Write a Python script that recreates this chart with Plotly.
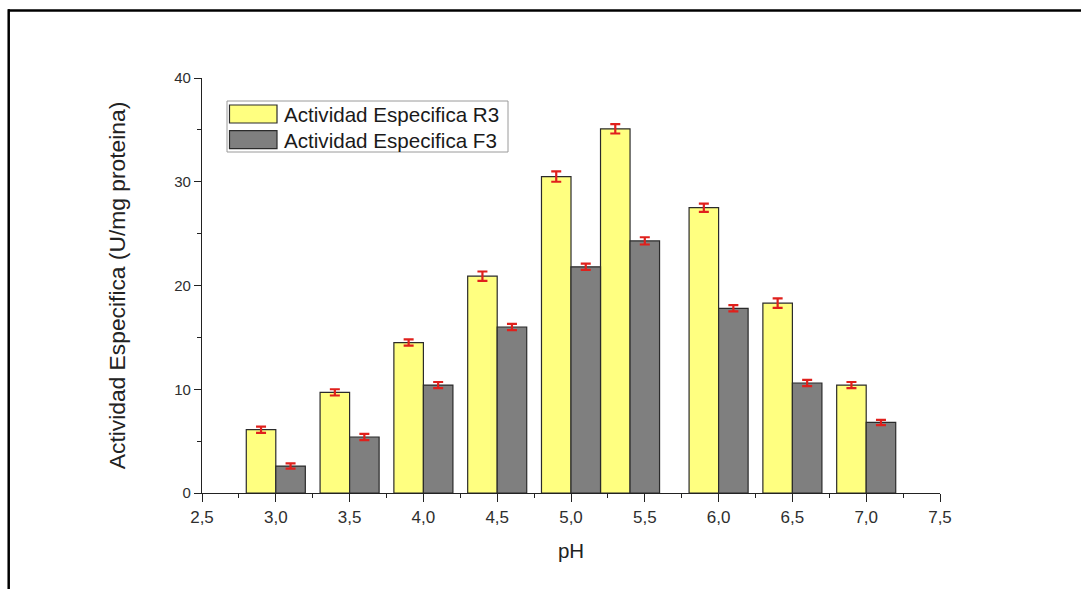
import plotly.graph_objects as go

# pH values of each measurement pair
ph = [3.0, 3.5, 4.0, 4.5, 5.0, 5.4, 6.0, 6.5, 7.0]

# Specific activity (U/mg protein) and standard deviations
r3_values = [6.1, 9.7, 14.5, 20.9, 30.5, 35.1, 27.5, 18.3, 10.4]
r3_errors = [0.3, 0.3, 0.3, 0.45, 0.5, 0.45, 0.4, 0.45, 0.3]
f3_values = [2.6, 5.4, 10.4, 16.0, 21.8, 24.3, 17.8, 10.6, 6.8]
f3_errors = [0.25, 0.3, 0.3, 0.3, 0.3, 0.35, 0.3, 0.3, 0.25]

series_names = ["Actividad Especifica R3", "Actividad Especifica F3"]
x_ticks = [2.5, 3.0, 3.5, 4.0, 4.5, 5.0, 5.5, 6.0, 6.5, 7.0, 7.5]
y_ticks = [0, 10, 20, 30, 40]

YELLOW = "#ffff80"
GREY = "#7f7f7f"
EDGE = "#2b2b2b"
RED = "#e0201c"
FONT = "Liberation Sans, Arial, sans-serif"

fig = go.Figure()

for name, vals, errs, color, offset in [
    (series_names[0], r3_values, r3_errors, YELLOW, -0.2),
    (series_names[1], f3_values, f3_errors, GREY, 0.0),
]:
    fig.add_trace(go.Bar(
        x=ph, y=vals, name=name,
        width=0.2, offset=offset,
        marker=dict(color=color, line=dict(color=EDGE, width=1.2)),
        error_y=dict(type="data", array=errs, visible=True,
                     color=RED, thickness=2.2, width=5),
        showlegend=False,
    ))

fig.update_layout(
    width=1081, height=589,
    margin=dict(l=202, r=141, t=78, b=96),
    paper_bgcolor="white", plot_bgcolor="white",
    barmode="overlay",
    separators=", ",
    font=dict(family=FONT, color="#333333"),
    showlegend=False,
)

fig.update_xaxes(
    range=[2.5, 7.5], tickvals=x_ticks, tickformat=".1f",
    showgrid=False, zeroline=False,
    showline=True, linecolor="#222222", linewidth=1.3,
    ticks="outside", ticklen=8, tickwidth=1.3, tickcolor="#222222",
    minor=dict(dtick=0.25, tick0=2.5, ticks="outside", ticklen=4,
               tickwidth=1.2, tickcolor="#222222"),
    tickfont=dict(size=17, color="#2e2e2e"),
    title=dict(text="pH", font=dict(size=20.5, color="#222222"), standoff=18),
)
fig.update_yaxes(
    range=[0, 40], tickvals=y_ticks,
    showgrid=False, zeroline=False,
    showline=True, linecolor="#222222", linewidth=1.3,
    ticks="outside", ticklen=7, tickwidth=1.3, tickcolor="#222222",
    minor=dict(dtick=5, tick0=0, ticks="outside", ticklen=4,
               tickwidth=1.2, tickcolor="#222222"),
    tickfont=dict(size=15, color="#2e2e2e"),
    title=dict(text="Actividad Especifica (U/mg proteina)",
               font=dict(size=22.8, color="#222222"), standoff=42),
)

# Legend box drawn in pixel-equivalent paper coordinates
plot_w = 1081 - 202 - 141
plot_h = 589 - 78 - 96


def px(x):
    return (x - 202) / plot_w


def py(y):
    return 1 - (y - 78) / plot_h


shapes = [
    dict(type="rect", xref="paper", yref="paper",
         x0=px(227), x1=px(508), y0=py(152), y1=py(101),
         line=dict(color="#9a9a9a", width=1), fillcolor="white", layer="above"),
]
for i, (name, color) in enumerate(zip(series_names, [YELLOW, GREY])):
    top = 105 + i * 25.7
    shapes.append(dict(type="rect", xref="paper", yref="paper",
                       x0=px(229.5), x1=px(277), y0=py(top + 18), y1=py(top),
                       line=dict(color=EDGE, width=1.2), fillcolor=color,
                       layer="above"))
    fig.add_annotation(x=px(282), y=py(top + 9.5), xref="paper", yref="paper",
                       text=name, showarrow=False, xanchor="left",
                       yanchor="middle",
                       font=dict(size=20.6, color="#1a1a1a", family=FONT))

# Outer frame (top and left edges)
shapes.append(dict(type="line", xref="paper", yref="paper",
                   x0=px(8), x1=px(1085), y0=py(10.5), y1=py(10.5),
                   line=dict(color="black", width=2.5)))
shapes.append(dict(type="line", xref="paper", yref="paper",
                   x0=px(8.7), x1=px(8.7), y0=py(9.3), y1=py(595),
                   line=dict(color="black", width=2.5)))

fig.update_layout(shapes=shapes)

fig.write_html("out.html")
